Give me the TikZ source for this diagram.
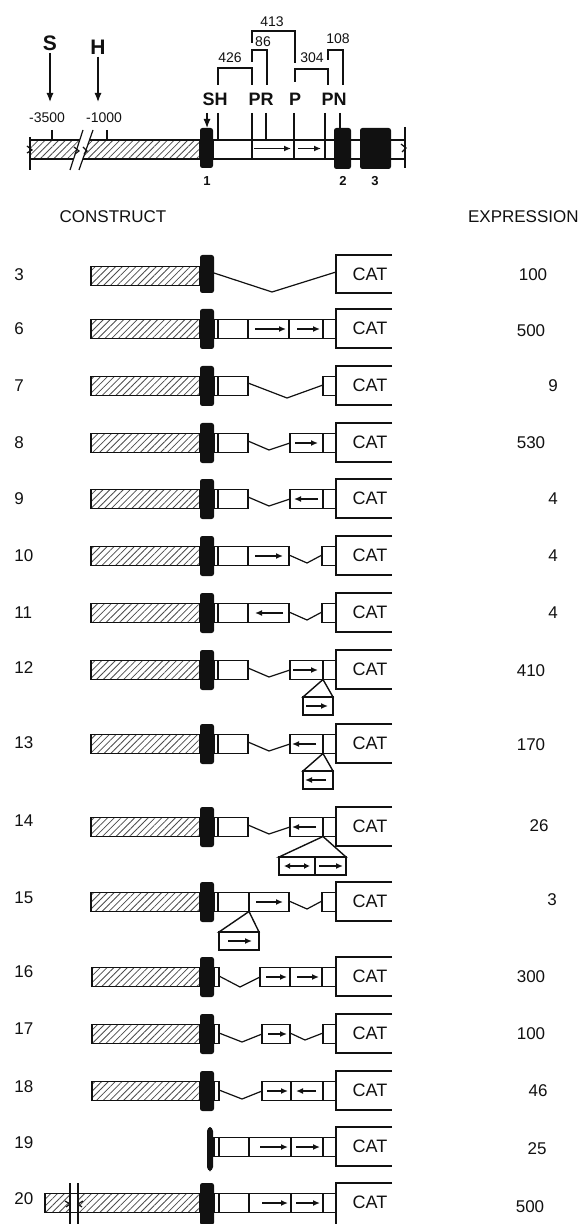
\documentclass[tikz,border=0pt]{standalone}
\usepackage{fontspec}
\setmainfont{Liberation Sans}
\usepackage{xcolor}
\usepackage{tikz}
\usetikzlibrary{arrows.meta, patterns.meta}
\definecolor{gnInk}{HTML}{111111}
\tikzset{
  hatch/.style ={draw=gnInk, line width=0.7pt, pattern={Lines[angle=45,distance=2.4pt,line width=0.4pt]}, pattern color=gnInk!75},
  exon/.style  ={fill=gnInk, rounded corners=1.2pt},
  cell/.style  ={draw=gnInk, line width=0.7pt, fill=white},
  lnk/.style   ={draw=gnInk, line width=0.6pt},
  catbox/.style={draw=gnInk, line width=0.7pt},
  dir/.style   ={-{Latex[length=3.5pt,width=3pt]}, line width=0.7pt, gnInk},
  bidir/.style ={{Latex[length=3pt,width=3pt]}-{Latex[length=3pt,width=3pt]}, line width=0.7pt, gnInk},
  big/.style   ={-{Latex[length=4.5pt,width=3.5pt]}, line width=0.6pt, gnInk},
  site/.style  ={font=\fontsize{10.5}{12}\bfseries\selectfont, inner sep=1pt, text=gnInk},
  rsite/.style ={font=\fontsize{9}{10}\bfseries\selectfont, inner sep=1pt, text=gnInk},
  bp/.style    ={font=\fontsize{7}{8}\selectfont, inner sep=1pt, text=gnInk},
  exn/.style   ={font=\fontsize{6.5}{7}\bfseries\selectfont, inner sep=1pt, text=gnInk},
  head/.style  ={font=\fontsize{8.5}{10}\selectfont, inner sep=1pt, text=gnInk},
  num/.style   ={font=\fontsize{8.5}{10}\selectfont, inner sep=1pt, text=gnInk},
  cat/.style   ={font=\fontsize{9}{10}\selectfont, inner sep=1pt, text=gnInk},
}

\begin{document}
\begin{tikzpicture}[x=0.5pt, y=-0.5pt]
\useasboundingbox (0,0) rectangle (582,1224);
\fill[white] (0,0) rectangle (582,1224);

% ---- genomic map ----
\node[site] (S) at (50,43) {S};
\node[site] (H) at (98,47) {H};
\coordinate (Stip) at (50,102);
\coordinate (Htip) at (98,102);
\draw[big] (S) -- (Stip);
\draw[big] (H) -- (Htip);
\node[bp] (m3500) at (47,118) {-3500};
\node[bp] (m1000) at (104,118) {-1000};
\draw[lnk] (52,130) -- (52,140);
\draw[lnk] (107,130) -- (107,140);

\draw[hatch] (30,140) rectangle (200,159);
\fill[white] (70,170) -- (83,130) -- (93,130) -- (79,170) -- cycle;
\draw[lnk] (70,170) -- (83,130);
\draw[lnk] (79,170) -- (93,130);
\draw[lnk] (30,137) -- (30,170);
\draw[lnk] (27,146) -- (32,150) -- (27,153);
\draw[lnk] (74,147) -- (79,151) -- (75,154);
\draw[lnk] (83,147) -- (87,151) -- (84,154);

\draw[cell] (213,140) rectangle (252,159) rectangle (294,140) rectangle (325,159) rectangle (405,140);
\draw[dir] (254,148.5) -- (291,148.5);
\draw[dir] (298,148.5) -- (321,148.5);
\fill[exon] (200,128) rectangle (213,168);
\fill[exon] (334,128) rectangle (351,169);
\fill[exon] (360,128) rectangle (391,169);
\draw[lnk] (405,127) -- (405,168);
\draw[lnk] (401,144) -- (406,148) -- (402,152);
\node[exn] (e1) at (207,181) {1};
\node[exn] (e2) at (343,181) {2};
\node[exn] (e3) at (375,181) {3};

% site labels and bracket distances
\node[rsite] (SH) at (215,99) {SH};
\node[rsite] (PR) at (261,99) {PR};
\node[rsite] (P)  at (295,99) {P};
\node[rsite] (PN) at (334,99) {PN};
\draw[big] (207,113) -- (207,128);
\draw[lnk] (218,113) -- (218,140);
\draw[lnk] (252,113) -- (252,140);
\draw[lnk] (266,113) -- (266,140);
\draw[lnk] (294,113) -- (294,140);
\draw[lnk] (325,113) -- (325,140);
\draw[lnk] (340,113) -- (340,128);
\draw[lnk] (218,85) |- (252,68) -- (252,85);
\draw[lnk] (252,62) |- (267,50) -- (267,85);
\draw[lnk] (252,43) |- (295,31) -- (295,63);
\draw[lnk] (295,82) |- (328,69) -- (328,85);
\draw[lnk] (328,60) |- (343,50) -- (343,85);
\node[bp] (d426) at (230,58) {426};
\node[bp] (d86)  at (263,42) {86};
\node[bp] (d413) at (272,22) {413};
\node[bp] (d304) at (312,58) {304};
\node[bp] (d108) at (338,39) {108};

% ---- column heads ----
\node[head] (hcon) at (113,217) {CONSTRUCT};
\node[head, anchor=east] (hexp) at (581,217) {EXPRESSION};

% ---- construct 3 ----
\begin{scope}[shift={(0,276)}]
\node[num,anchor=west] (r3) at (12,-1) {3};
\draw[hatch] (91,-9.5) rectangle (200,9.5);
\fill[exon] (200,-21) rectangle (214,17);
\draw[lnk] (214,-3) -- (272,16) -- (336,-4);
\draw[catbox] (392,-21) -| (336,17) -- (392,17);
\node[cat] (cat3) at (370,-2) {CAT};
\node[num] (x3) at (533,-1) {100};
\end{scope}

% ---- construct 6 ----
\begin{scope}[shift={(0,329)}]
\node[num,anchor=west] (r6) at (12,0) {6};
\draw[hatch] (91,-9.5) rectangle (200,9.5);
\draw[cell] (214,-9.5) rectangle (218,9.5) rectangle (248,-9.5) rectangle (289,9.5) rectangle (323,-9.5) rectangle (336,9.5);
\draw[dir] (255,0) -- (286,0);
\draw[dir] (297,0) -- (320,0);
\fill[exon] (200,-20) rectangle (214,20);
\draw[catbox] (392,-20) -| (336,19) -- (392,19);
\node[cat] (cat6) at (370,-1) {CAT};
\node[num] (x6) at (531,2) {500};
\end{scope}

% ---- construct 7 ----
\begin{scope}[shift={(0,386)}]
\node[num,anchor=west] (r7) at (12,0) {7};
\draw[hatch] (91,-9.5) rectangle (200,9.5);
\draw[cell] (214,-9.5) rectangle (218,9.5) rectangle (248,-9.5);
\draw[lnk] (248,-3) -- (287,12) -- (323,-1);
\draw[cell] (323,-9.5) rectangle (336,9.5);
\fill[exon] (200,-20) rectangle (214,20);
\draw[catbox] (392,-20) -| (336,19) -- (392,19);
\node[cat] (cat7) at (370,-1) {CAT};
\node[num] (x7) at (553,0) {9};
\end{scope}

% ---- construct 8 ----
\begin{scope}[shift={(0,443)}]
\node[num,anchor=west] (r8) at (12,0) {8};
\draw[hatch] (91,-9.5) rectangle (200,9.5);
\draw[cell] (214,-9.5) rectangle (218,9.5) rectangle (248,-9.5);
\draw[lnk] (248,-2) -- (269,7) -- (290,0);
\draw[cell] (290,-9.5) rectangle (323,9.5) rectangle (336,-9.5);
\draw[dir] (295,0) -- (318,0);
\fill[exon] (200,-20) rectangle (214,20);
\draw[catbox] (392,-20) -| (336,19) -- (392,19);
\node[cat] (cat8) at (370,-1) {CAT};
\node[num] (x8) at (531,0) {530};
\end{scope}

% ---- construct 9 ----
\begin{scope}[shift={(0,499)}]
\node[num,anchor=west] (r9) at (12,0) {9};
\draw[hatch] (91,-9.5) rectangle (200,9.5);
\draw[cell] (214,-9.5) rectangle (218,9.5) rectangle (248,-9.5);
\draw[lnk] (248,-2) -- (269,7) -- (290,0);
\draw[cell] (290,-9.5) rectangle (323,9.5) rectangle (336,-9.5);
\draw[dir] (318,0) -- (294,0);
\fill[exon] (200,-20) rectangle (214,20);
\draw[catbox] (392,-20) -| (336,19) -- (392,19);
\node[cat] (cat9) at (370,-1) {CAT};
\node[num] (x9) at (553,0) {4};
\end{scope}

% ---- construct 10 ----
\begin{scope}[shift={(0,556)}]
\node[num,anchor=west] (r10) at (12,0) {10};
\draw[hatch] (91,-9.5) rectangle (200,9.5);
\draw[cell] (214,-9.5) rectangle (218,9.5) rectangle (248,-9.5) rectangle (289,9.5);
\draw[dir] (255,0) -- (283,0);
\draw[lnk] (289,-1) -- (307,7) -- (322,-1);
\draw[cell] (322,-9.5) rectangle (336,9.5);
\fill[exon] (200,-20) rectangle (214,20);
\draw[catbox] (392,-20) -| (336,19) -- (392,19);
\node[cat] (cat10) at (370,-1) {CAT};
\node[num] (x10) at (553,0) {4};
\end{scope}

% ---- construct 11 ----
\begin{scope}[shift={(0,613)}]
\node[num,anchor=west] (r11) at (12,0) {11};
\draw[hatch] (91,-9.5) rectangle (200,9.5);
\draw[cell] (214,-9.5) rectangle (218,9.5) rectangle (248,-9.5) rectangle (289,9.5);
\draw[dir] (283,0) -- (255,0);
\draw[lnk] (289,-1) -- (307,7) -- (322,-1);
\draw[cell] (322,-9.5) rectangle (336,9.5);
\fill[exon] (200,-20) rectangle (214,20);
\draw[catbox] (392,-20) -| (336,19) -- (392,19);
\node[cat] (cat11) at (370,-1) {CAT};
\node[num] (x11) at (553,0) {4};
\end{scope}

% ---- construct 12 ----
\begin{scope}[shift={(0,670)}]
\node[num,anchor=west] (r12) at (12,-2) {12};
\draw[hatch] (91,-9.5) rectangle (200,9.5);
\draw[cell] (214,-9.5) rectangle (218,9.5) rectangle (248,-9.5);
\draw[lnk] (248,-2) -- (269,7) -- (290,0);
\draw[cell] (290,-9.5) rectangle (323,9.5) rectangle (336,-9.5);
\draw[dir] (293,0) -- (318,0);
\draw[cell] (323,9.5) -- (303,27) -- (333,27) -- cycle;
\draw[cell] (303,27) rectangle (333,45);
\draw[dir] (306,36) -- (328,36);
\fill[exon] (200,-20) rectangle (214,20);
\draw[catbox] (392,-20) -| (336,19) -- (392,19);
\node[cat] (cat12) at (370,-1) {CAT};
\node[num] (x12) at (531,1) {410};
\end{scope}

% ---- construct 13 ----
\begin{scope}[shift={(0,744)}]
\node[num,anchor=west] (r13) at (12,-1) {13};
\draw[hatch] (91,-9.5) rectangle (200,9.5);
\draw[cell] (214,-9.5) rectangle (218,9.5) rectangle (248,-9.5);
\draw[lnk] (248,-2) -- (269,7) -- (290,0);
\draw[cell] (290,-9.5) rectangle (323,9.5) rectangle (336,-9.5);
\draw[dir] (316,0) -- (292,0);
\draw[cell] (323,9.5) -- (303,27) -- (333,27) -- cycle;
\draw[cell] (303,27) rectangle (333,45);
\draw[dir] (326,36) -- (305,36);
\fill[exon] (200,-20) rectangle (214,20);
\draw[catbox] (392,-20) -| (336,19) -- (392,19);
\node[cat] (cat13) at (370,-1) {CAT};
\node[num] (x13) at (531,1) {170};
\end{scope}

% ---- construct 14 ----
\begin{scope}[shift={(0,827)}]
\node[num,anchor=west] (r14) at (12,-6) {14};
\draw[hatch] (91,-9.5) rectangle (200,9.5);
\draw[cell] (214,-9.5) rectangle (218,9.5) rectangle (248,-9.5);
\draw[lnk] (248,-2) -- (269,7) -- (290,0);
\draw[cell] (290,-9.5) rectangle (323,9.5) rectangle (336,-9.5);
\draw[dir] (316,0) -- (292,0);
\draw[cell] (323,9.5) -- (279,30) -- (346,30) -- cycle;
\draw[cell] (279,30) rectangle (315,48) rectangle (346,30);
\draw[bidir] (284,39) -- (310,39);
\draw[dir] (319,39) -- (343,39);
\fill[exon] (200,-20) rectangle (214,20);
\draw[catbox] (392,-20) -| (336,19) -- (392,19);
\node[cat] (cat14) at (370,-1) {CAT};
\node[num] (x14) at (539,-1) {26};
\end{scope}

% ---- construct 15 ----
\begin{scope}[shift={(0,902)}]
\node[num,anchor=west] (r15) at (12,-4) {15};
\draw[hatch] (91,-9.5) rectangle (200,9.5);
\draw[cell] (214,-9.5) rectangle (218,9.5) rectangle (249,-9.5) rectangle (289,9.5);
\draw[dir] (256,0) -- (283,0);
\draw[lnk] (289,-1) -- (307,7) -- (322,-1);
\draw[cell] (322,-9.5) rectangle (336,9.5);
\draw[cell] (249,9.5) -- (219,30) -- (259,30) -- cycle;
\draw[cell] (219,30) rectangle (259,48);
\draw[dir] (228,39) -- (252,39);
\fill[exon] (200,-20) rectangle (214,20);
\draw[catbox] (392,-20) -| (336,19) -- (392,19);
\node[cat] (cat15) at (370,-1) {CAT};
\node[num] (x15) at (552,-2) {3};
\end{scope}

% ---- construct 16 ----
\begin{scope}[shift={(0,977)}]
\node[num,anchor=west] (r16) at (12,-5) {16};
\draw[hatch] (92,-9.5) rectangle (200,9.5);
\draw[cell] (214,-9.5) rectangle (219,9.5);
\draw[lnk] (219,-1) -- (240,10) -- (260,0);
\draw[cell] (260,-9.5) rectangle (290,9.5) rectangle (322,-9.5) rectangle (336,9.5);
\draw[dir] (266,0) -- (287,0);
\draw[dir] (297,0) -- (319,0);
\fill[exon] (200,-20) rectangle (214,20);
\draw[catbox] (392,-20) -| (336,19) -- (392,19);
\node[cat] (cat16) at (370,-1) {CAT};
\node[num] (x16) at (531,0) {300};
\end{scope}

% ---- construct 17 ----
\begin{scope}[shift={(0,1034)}]
\node[num,anchor=west] (r17) at (12,-5) {17};
\draw[hatch] (92,-9.5) rectangle (200,9.5);
\draw[cell] (214,-9.5) rectangle (219,9.5);
\draw[lnk] (219,-1) -- (242,8) -- (262,0);
\draw[cell] (262,-9.5) rectangle (290,9.5);
\draw[dir] (268,0) -- (287,0);
\draw[lnk] (290,-1) -- (305,6) -- (323,-1);
\draw[cell] (323,-9.5) rectangle (336,9.5);
\fill[exon] (200,-20) rectangle (214,20);
\draw[catbox] (392,-20) -| (336,19) -- (392,19);
\node[cat] (cat17) at (370,-1) {CAT};
\node[num] (x17) at (531,0) {100};
\end{scope}

% ---- construct 18 ----
\begin{scope}[shift={(0,1091)}]
\node[num,anchor=west] (r18) at (12,-4) {18};
\draw[hatch] (92,-9.5) rectangle (200,9.5);
\draw[cell] (214,-9.5) rectangle (219,9.5);
\draw[lnk] (219,-1) -- (242,8) -- (262,0);
\draw[cell] (262,-9.5) rectangle (291,9.5) rectangle (323,-9.5) rectangle (336,9.5);
\draw[dir] (267,0) -- (288,0);
\draw[dir] (316,0) -- (296,0);
\fill[exon] (200,-20) rectangle (214,20);
\draw[catbox] (392,-20) -| (336,19) -- (392,19);
\node[cat] (cat18) at (370,-1) {CAT};
\node[num] (x18) at (538,0) {46};
\end{scope}

% ---- construct 19 ----
\begin{scope}[shift={(0,1147)}]
\node[num,anchor=west] (r19) at (12,-4) {19};
\draw[cell] (214,-9.5) rectangle (219,9.5) rectangle (249,-9.5) rectangle (291,9.5) rectangle (323,-9.5) rectangle (336,9.5);
\draw[dir] (260,0) -- (288,0);
\draw[dir] (296,0) -- (320,0);
\fill[exon, rounded corners=2pt] (207,-20) rectangle (213,24);
\draw[catbox] (392,-20) -| (336,19) -- (392,19);
\node[cat] (cat19) at (370,-1) {CAT};
\node[num] (x19) at (537,2) {25};
\end{scope}

% ---- construct 20 ----
\begin{scope}[shift={(0,1203)}]
\node[num,anchor=west] (r20) at (12,-4) {20};
\draw[hatch] (45,-9.5) rectangle (200,9.5);
\fill[white] (70,-9) rectangle (78,9);
\draw[lnk] (70,-20) -- (70,22);
\draw[lnk] (78,-20) -- (78,22);
\draw[lnk] (65,-2) -- (70,1) -- (66,4);
\draw[lnk] (83,-2) -- (78,1) -- (82,4);
\draw[cell] (214,-9.5) rectangle (219,9.5) rectangle (249,-9.5) rectangle (291,9.5) rectangle (323,-9.5) rectangle (336,9.5);
\draw[dir] (262,0) -- (288,0);
\draw[dir] (296,0) -- (320,0);
\fill[exon] (200,-20) rectangle (214,22);
\draw[catbox] (392,-20) -| (336,22);
\node[cat] (cat20) at (370,-1) {CAT};
\node[num] (x20) at (530,4) {500};
\end{scope}
\end{tikzpicture}
\end{document}
